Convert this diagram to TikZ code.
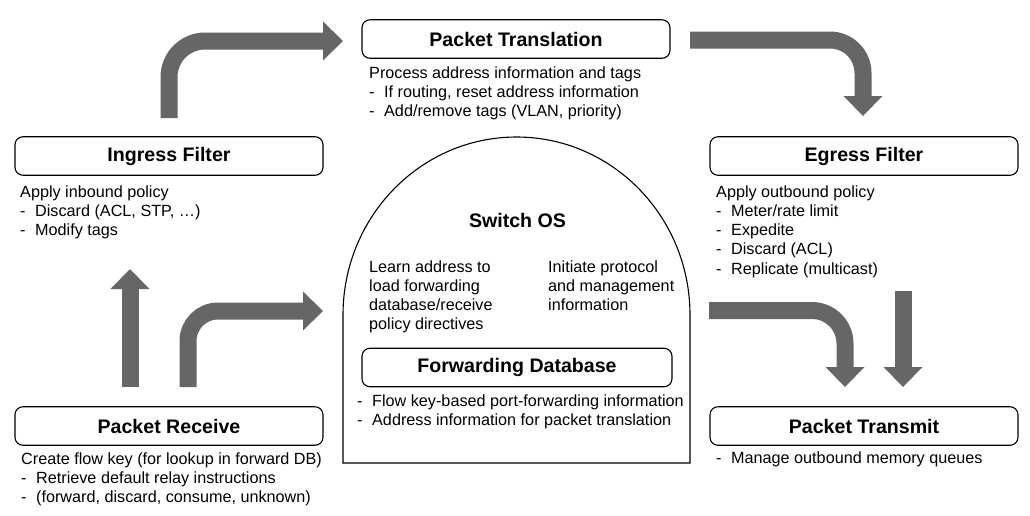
\documentclass[tikz,border=0pt]{standalone}
\usepackage{fontspec}
\setmainfont{Liberation Sans}
\usetikzlibrary{arrows.meta,positioning}
\definecolor{arrowgray}{HTML}{666666}
\tikzset{box/.style={draw,rounded corners=8pt,line width=1.1pt,minimum width=308pt,minimum height=38.5pt,inner sep=0pt,font=\fontsize{19.6}{22}\selectfont\bfseries}}
\newcommand{\dashitem}{\makebox[15pt][l]{-}}

\begin{document}
\begin{tikzpicture}[x=1pt,y=-1pt,
        desc/.style={anchor=base west,align=left,inner sep=0pt,font=\fontsize{16.2}{19.3}\selectfont},
        fat/.style={draw=arrowgray,line width=17pt,-{Triangle[width=39pt,length=20pt,line width=0pt]}}]
        \useasboundingbox (0,0) rectangle (1030,515);
        \draw[line width=1.1pt] (343,463) -- (343,315)
            arc[start angle=180,end angle=0,x radius=173.5pt,y radius=178pt] -- (690,463) -- cycle;
        \node[box] (trans) at (516,39) {Packet Translation};
        \node[box] (ingress) at (169,156) {Ingress Filter};
        \node[box] (egress) at (864,156) {Egress Filter};
        \node[box] (receive) at (169,426) {Packet Receive};
        \node[box] (transmit) at (864,426) {Packet Transmit};
        \node[box,minimum width=310pt] (fdb) at (517,367.5) {Forwarding Database};
        \node[anchor=base,inner sep=0pt,font=\fontsize{19.6}{22}\selectfont\bfseries] (os) at (517.5,227) {Switch OS};
        \node[desc] (transdesc) at (369,116.6) {Process address information and tags\\
            \dashitem If routing, reset address information\\
            \dashitem Add/remove tags (VLAN, priority)};
        \node[desc] (ingressdesc) at (20,235.6) {Apply inbound policy\\
            \dashitem Discard (ACL, STP, …)\\
            \dashitem Modify tags};
        \node[desc] (egressdesc) at (716,274.2) {Apply outbound policy\\
            \dashitem Meter/rate limit\\
            \dashitem Expedite\\
            \dashitem Discard (ACL)\\
            \dashitem Replicate (multicast)};
        \node[desc] (learn) at (369,329.9) {Learn address to\\load forwarding\\database/receive\\policy directives};
        \node[desc] (initiate) at (548,310.6) {Initiate protocol\\and management\\information};
        \node[desc] (fdbdesc) at (357,425.3) {\dashitem Flow key-based port-forwarding information\\
            \dashitem Address information for packet translation};
        \node[desc] (receivedesc) at (21,502.6) {Create flow key (for lookup in forward DB)\\
            \dashitem Retrieve default relay instructions\\
            \dashitem (forward, discard, consume, unknown)};
        \node[desc] (transmitdesc) at (716,463) {\dashitem Manage outbound memory queues};
        \coordinate (ingress out) at (169,118);
        \coordinate (trans in) at (343,41);
        \coordinate (trans out) at (690,40);
        \coordinate (egress in) at (863,116);
        \coordinate (receive up) at (130,387);
        \coordinate (ingress in) at (130,269);
        \coordinate (receive out) at (188,387);
        \coordinate (os in) at (323,311);
        \coordinate (os out) at (709,310.5);
        \coordinate (transmit in) at (845,387);
        \coordinate (egress out) at (903,291);
        \coordinate (egress down) at (903,387);
        \draw[fat,rounded corners=36pt] (ingress out) |- (trans in);
        \draw[fat,rounded corners=33pt] (trans out) -| (egress in);
        \draw[fat] (receive up) -- (ingress in);
        \draw[fat,rounded corners=30pt] (receive out) |- (os in);
        \draw[fat,rounded corners=33pt] (os out) -| (transmit in);
        \draw[fat] (egress out) -- (egress down);
    \end{tikzpicture}
\end{document}
